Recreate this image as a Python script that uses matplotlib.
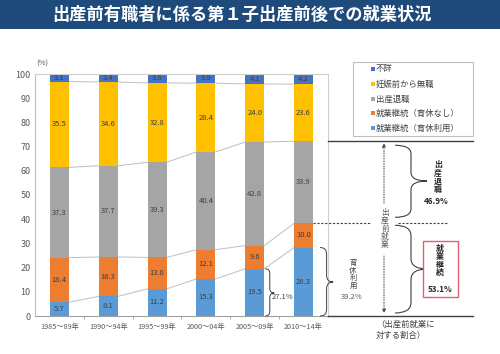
import matplotlib
matplotlib.use("Agg")
import matplotlib.pyplot as plt
from matplotlib.patches import Rectangle, PathPatch
from matplotlib.path import Path
import numpy as np

plt.rcParams['font.family'] = ['Noto Sans CJK JP', 'DejaVu Sans']

# ---------------- data ----------------
periods = ["1985～89年", "1990～94年", "1995～99年", "2000～04年", "2005～09年", "2010～14年"]
ikukyu_riyo = [5.7, 8.1, 11.2, 15.3, 19.5, 28.3]      # 就業継続（育休利用）
ikukyu_nashi = [18.4, 16.3, 13.0, 12.1, 9.6, 10.0]    # 就業継続（育休なし）
shussan_taishoku = [37.3, 37.7, 39.3, 40.4, 42.8, 33.9]  # 出産退職
ninshin_mushoku = [35.5, 34.6, 32.8, 28.4, 24.0, 23.6]   # 妊娠前から無職
fusho = [3.1, 3.4, 3.8, 3.9, 4.1, 4.2]                   # 不詳
series_names = ["就業継続（育休利用）", "就業継続（育休なし）", "出産退職", "妊娠前から無職", "不詳"]
yticks = list(range(0, 101, 10))
pct_27 = "27.1%"
pct_39 = "39.2%"
pct_469 = "46.9%"
pct_531 = "53.1%"

colors = ["#5B9BD5", "#ED7D31", "#A5A5A5", "#FFC000", "#4472C4"]
series = [ikukyu_riyo, ikukyu_nashi, shussan_taishoku, ninshin_mushoku, fusho]

W, H = 500, 354
fig = plt.figure(figsize=(W / 100, H / 100), dpi=100)
fig.patch.set_facecolor("white")

# title band
fig.patches.append(Rectangle((0, 1 - 29 / H), 1, 29 / H, transform=fig.transFigure,
                             facecolor="#1F4A7C", edgecolor="none", zorder=0))
fig.text(242 / W, 1 - 15 / H, "出産前有職者に係る第１子出産前後での就業状況", color="white",
         fontsize=12.4, fontweight="bold", ha="center", va="center")

ax = fig.add_axes([35 / W, 38 / H, (328 - 35) / W, (316 - 74) / H])
x = np.arange(len(periods))
bw = 0.39
bottom = np.zeros(len(periods))
bounds = []
for vals, c in zip(series, colors):
    v = np.array(vals)
    ax.bar(x, v, bw, bottom=bottom, color=c, edgecolor="none", zorder=2)
    for xi, b, vi in zip(x, bottom, v):
        ax.text(xi, b + vi / 2, f"{vi:.1f}", ha="center", va="center", fontsize=5.5,
                color="#404040", zorder=3)
    bottom = bottom + v
    bounds.append(bottom.copy())

# series lines (connectors)
for b in bounds[:4]:
    for i in range(len(x) - 1):
        ax.plot([x[i] + bw / 2, x[i + 1] - bw / 2], [b[i], b[i + 1]], color="#BFBFBF",
                lw=0.7, zorder=1)

ax.set_xlim(-0.5, 5.5)
ax.set_ylim(0, 100)
ax.set_yticks(yticks)
ax.set_yticklabels([str(t) for t in yticks], fontsize=6.5, color="#595959")
ax.set_xticks(x)
ax.set_xticklabels(periods, fontsize=5.2, color="#595959")
ax.tick_params(axis="x", length=0, pad=5)
ax.tick_params(axis="y", length=0, pad=3)
ax.set_xticks(np.arange(0.5, 5.5, 1), minor=True)
ax.tick_params(axis="x", which="minor", length=2.5, color="#A0A0A0", direction="out")
for s in ["top", "right"]:
    ax.spines[s].set_color("#D0D0D0")
    ax.spines[s].set_linewidth(0.8)
ax.spines["left"].set_color("#BFBFBF")
ax.spines["bottom"].set_color("#A0A0A0")
ax.text(-0.5 + 0.02, 102.5, "(%)", fontsize=5.5, color="#595959", ha="left", va="bottom")

# overlay in pixel coordinates (top-down)
ov = fig.add_axes([0, 0, 1, 1])
ov.set_xlim(0, W)
ov.set_ylim(H, 0)
ov.axis("off")
ov.set_zorder(5)


def ypix(v):
    return H - ax.transData.transform((0, v))[1]


def xpix(v):
    return ax.transData.transform((v, 0))[0]


def vtext(xc, y0, s, step, **kw):
    for i, ch in enumerate(s):
        ov.text(xc, y0 + i * step, ch, ha="center", va="center", **kw)


def brace(x0, y0, y1, w, ym=None, lw=0.8, color="#404040"):
    if ym is None:
        ym = (y0 + y1) / 2
    r = min(w * 0.5, (y1 - y0) * 0.12)
    xs = x0 + w / 2
    verts = [(x0, y0), (xs, y0), (xs, y0 + r), (xs, ym - r), (xs, ym), (x0 + w, ym),
             (xs, ym), (xs, ym + r), (xs, y1 - r), (xs, y1), (x0, y1)]
    codes = [Path.MOVETO, Path.CURVE3, Path.CURVE3, Path.LINETO, Path.CURVE3, Path.CURVE3,
             Path.CURVE3, Path.CURVE3, Path.LINETO, Path.CURVE3, Path.CURVE3]
    ov.add_patch(PathPatch(Path(verts, codes), facecolor="none", edgecolor=color, lw=lw))


top_cont = bounds[2][5]   # 72.2
mid_cont = bounds[1][5]   # 38.3
y_top = ypix(top_cont)
y_mid = ypix(mid_cont)
y_zero = ypix(0)
bar6_right = xpix(5 + bw / 2)

ov.plot([328, 473], [y_top, y_top], color="#404040", lw=1.0)
ov.plot([328, 473], [y_zero, y_zero], color="#404040", lw=1.0)
ov.plot([bar6_right, 370], [y_mid, y_mid], color="#404040", lw=0.8, ls=(0, (2, 1.5)))
ov.plot([398, 448], [y_mid, y_mid], color="#404040", lw=0.8, ls=(0, (2, 1.5)))

# dotted arrows
ov.annotate("", xy=(384, y_top + 2), xytext=(384, 203),
            arrowprops=dict(arrowstyle="-|>", lw=0.7, ls=":", color="#404040",
                            mutation_scale=5, shrinkA=0, shrinkB=0))
ov.annotate("", xy=(384, y_zero - 3), xytext=(384, 256),
            arrowprops=dict(arrowstyle="-|>", lw=0.7, ls=":", color="#404040",
                            mutation_scale=5, shrinkA=0, shrinkB=0))
vtext(385, 213, "出産前就業", 8, fontsize=5.6, color="#595959")

# big braces
brace(395, y_top + 4, y_mid - 6, 32, ym=181)
brace(395, y_mid + 2, y_zero - 3, 32, ym=269)
vtext(438, 165, "出産退職", 8.2, fontsize=5.7, fontweight="bold", color="#262626")
ov.text(436, 202, pct_469, fontsize=5.8, fontweight="bold", color="#262626", ha="center",
        va="center")
ov.add_patch(Rectangle((423, 241), 35, 56, facecolor="white", edgecolor="#E06070", lw=1.0))
vtext(440, 248, "就業継続", 8.2, fontsize=5.7, fontweight="bold", color="#262626")
ov.text(440, 290, pct_531, fontsize=5.8, fontweight="bold", color="#262626", ha="center",
        va="center")

# small braces
b5 = ypix(bounds[0][4])
brace(xpix(4 + bw / 2) + 1, b5, y_zero, 9, ym=293, lw=0.7)
ov.text(283, 297, pct_27, fontsize=5.5, color="#404040", ha="center", va="center")
b6 = ypix(bounds[0][5])
brace(bar6_right + 7, b6, y_zero, 13, ym=282, lw=0.7)
vtext(353, 263, "育休利用", 7.6, fontsize=5.3, color="#404040")
ov.text(352, 297, pct_39, fontsize=5.5, color="#595959", ha="center", va="center")

ov.text(376, 330, "（出産前就業に\n対する割合）", fontsize=6, color="#404040", ha="left",
        va="center", linespacing=1.3)

# legend (manual)
ov.add_patch(Rectangle((353, 62), 120, 74, facecolor="white", edgecolor="#BFBFBF", lw=0.8))
leg_y = [69, 84, 99, 113, 128]
for yy, name, c in zip(leg_y, series_names[::-1], colors[::-1]):
    ov.add_patch(Rectangle((371, yy - 1.8), 3.6, 3.6, facecolor=c, edgecolor="none"))
    ov.text(376, yy, name, fontsize=6, color="#404040", ha="left", va="center")

fig.savefig("out.png", dpi=100)
